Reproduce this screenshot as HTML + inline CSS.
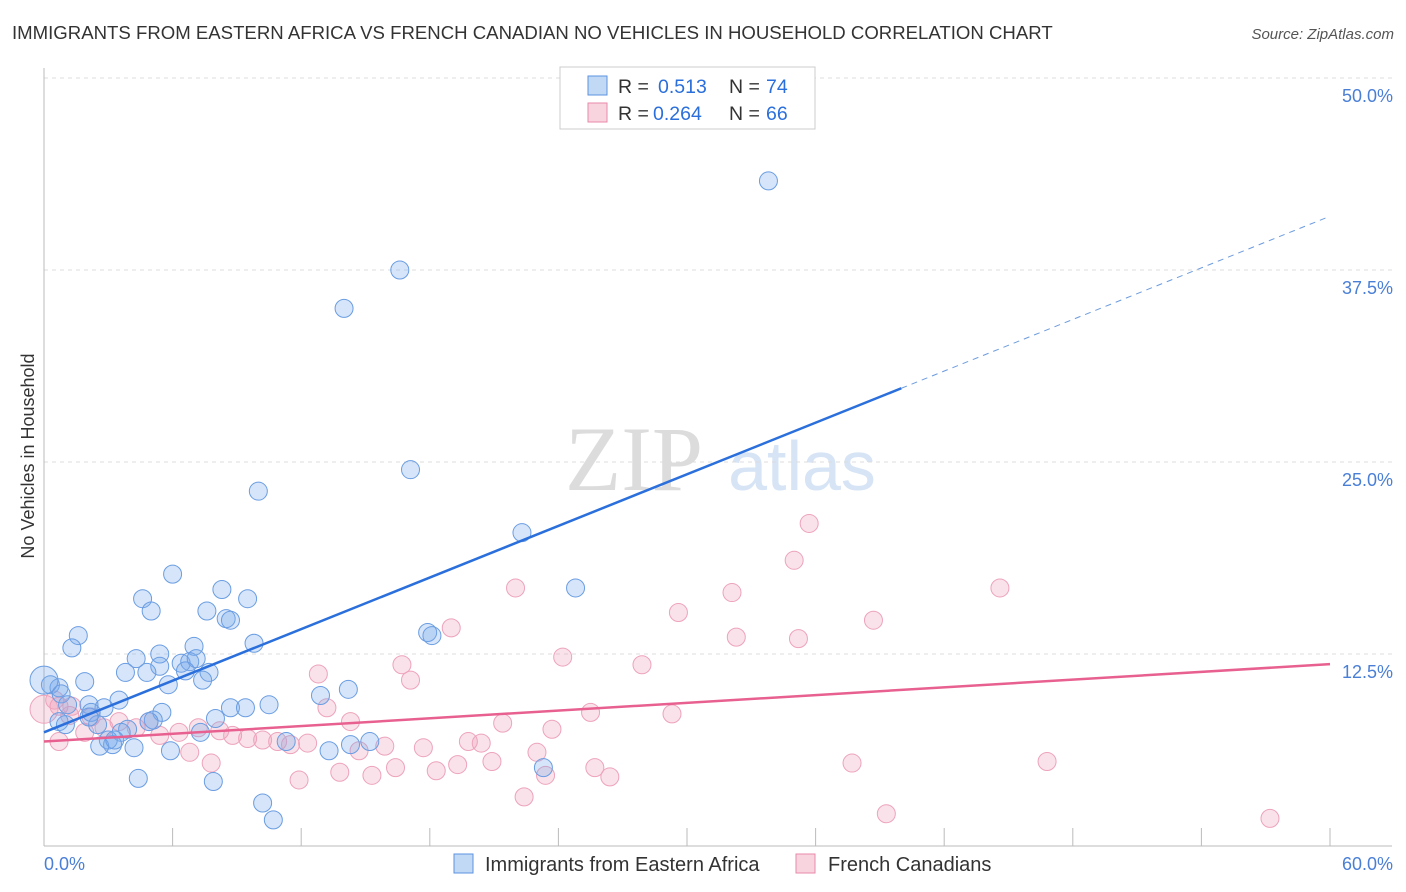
<!DOCTYPE html>
<html><head><meta charset="utf-8">
<style>
body{margin:0;background:#fff;font-family:"Liberation Sans",sans-serif;}
svg{display:block}
</style></head>
<body>
<svg id="chart" width="1406" height="892" viewBox="0 0 1406 892">
<text x="12" y="39" font-size="18.6" fill="#333">IMMIGRANTS FROM EASTERN AFRICA VS FRENCH CANADIAN NO VEHICLES IN HOUSEHOLD CORRELATION CHART</text>
<text x="1394" y="39" font-size="15" fill="#555" text-anchor="end" font-style="italic">Source: ZipAtlas.com</text>
<text x="634" y="490" font-size="92" fill="#dcdcdc" font-family="Liberation Serif,serif" text-anchor="middle">ZIP</text>
<text x="802" y="490" font-size="70" fill="#d6e4f5" text-anchor="middle">atlas</text>
<g id="grid"></g>
<g id="axes"></g>
<g id="pts"></g>
<g id="lines"></g>
<text transform="translate(34,456) rotate(-90)" font-size="18" fill="#333" text-anchor="middle">No Vehicles in Household</text>
<g>
<rect x="560" y="67" width="255" height="62" fill="#fff" stroke="#ccc"/>
<rect x="588" y="76" width="19" height="19" fill="rgba(120,170,235,0.45)" stroke="#5b93e0"/>
<text x="618" y="93" font-size="19.5" fill="#333">R =</text>
<text x="658" y="93" font-size="19.5" fill="#2a6fdb">0.513</text>
<text x="729" y="93" font-size="19.5" fill="#333">N =</text>
<text x="766" y="93" font-size="19.5" fill="#2a6fdb">74</text>
<rect x="588" y="103" width="19" height="19" fill="rgba(240,160,185,0.45)" stroke="#e88aa8"/>
<text x="618" y="120" font-size="19.5" fill="#333">R =</text>
<text x="653" y="120" font-size="19.5" fill="#2a6fdb">0.264</text>
<text x="729" y="120" font-size="19.5" fill="#333">N =</text>
<text x="766" y="120" font-size="19.5" fill="#2a6fdb">66</text>
</g>
<g>
<rect x="454" y="854" width="19" height="19" fill="rgba(120,170,235,0.45)" stroke="#5b93e0"/>
<text x="485" y="871" font-size="20" fill="#333">Immigrants from Eastern Africa</text>
<rect x="796" y="854" width="19" height="19" fill="rgba(240,160,185,0.45)" stroke="#e88aa8"/>
<text x="828" y="871" font-size="20" fill="#333">French Canadians</text>
</g>
</svg>
<script>
const xTicks=[0,6,12,18,24,30,36,42,48,54,60];
const yTicks=[12.5,25,37.5,50];
const yTickLabels=["12.5%","25.0%","37.5%","50.0%"];
const blueX=[33.8,16.6,14.0,17.1,10.0,22.3,24.8,6.0,8.3,9.5,4.6,5.0,7.6,8.5,8.7,1.6,1.3,7.0,9.8,17.9,18.1,4.3,5.4,5.4,6.4,6.8,7.1,6.6,7.7,3.8,4.8,1.9,5.8,7.4,0.3,0.7,0.8,14.2,12.9,3.5,1.1,2.1,2.8,8.7,9.4,10.5,5.5,2.2,5.1,8.0,0.7,3.9,2.5,3.6,3.0,3.2,7.3,2.6,4.2,5.9,11.3,14.3,15.2,13.3,3.3,23.3,4.4,7.9,10.2,10.7,0.0,1.0,4.9,2.1];
const blueY=[43.3,37.5,35.0,24.5,23.1,20.4,16.8,17.7,16.7,16.1,16.1,15.3,15.3,14.8,14.7,13.7,12.9,13.0,13.2,13.9,13.7,12.2,12.5,11.7,11.9,12.0,12.2,11.4,11.3,11.3,11.3,10.7,10.5,10.8,10.5,10.3,9.9,10.2,9.8,9.5,9.2,9.2,9.0,9.0,9.0,9.2,8.7,8.7,8.2,8.3,8.1,7.6,7.9,7.4,6.9,6.6,7.4,6.5,6.4,6.2,6.8,6.6,6.8,6.2,6.9,5.1,4.4,4.2,2.8,1.7,10.8,7.9,8.1,8.4];
const pinkX=[35.7,35.0,22.0,32.1,44.6,29.6,38.7,19.0,32.3,35.2,24.2,27.9,16.7,12.8,17.1,13.2,25.5,29.3,21.4,14.3,23.7,3.5,2.2,0.7,0.5,1.2,1.9,2.8,4.3,4.9,5.4,6.3,7.2,8.2,8.8,9.5,10.2,10.9,11.5,12.3,14.7,15.9,17.7,19.8,20.4,23.0,0.7,6.8,7.8,11.9,13.8,15.3,16.4,18.3,19.3,20.9,23.4,25.7,26.4,37.7,46.8,22.4,39.3,57.2,0.0,1.3];
const pinkY=[21.0,18.6,16.8,16.5,16.8,15.2,14.7,14.2,13.6,13.5,12.3,11.8,11.8,11.2,10.8,9.0,8.7,8.6,8.0,8.1,7.6,8.1,8.4,9.1,9.5,8.5,7.4,7.7,7.7,8.1,7.2,7.4,7.7,7.5,7.2,7.0,6.9,6.8,6.6,6.7,6.2,6.5,6.4,6.8,6.7,6.1,6.8,6.1,5.4,4.3,4.8,4.6,5.1,4.9,5.3,5.5,4.6,5.1,4.5,5.4,5.5,3.2,2.1,1.8,8.9,9.1];
const blueTrend=[7.4,0.56];
const pinkTrend=[6.8,0.084];
const X0=44,X1=1330,Y0=846,Y50=78;
const sx=v=>X0+(v/60)*(X1-X0);
const sy=v=>Y0-(v/50)*(Y0-Y50);
const NS="http://www.w3.org/2000/svg";
function mk(tag,attrs,parent){const e=document.createElementNS(NS,tag);for(const k in attrs)e.setAttribute(k,attrs[k]);parent.appendChild(e);return e;}
const grid=document.getElementById('grid'),axes=document.getElementById('axes'),pts=document.getElementById('pts'),lines=document.getElementById('lines');
yTicks.forEach((t,i)=>{
 const l=mk('line',{x1:X0,x2:1392,y1:sy(t),y2:sy(t),stroke:'#ddd','stroke-dasharray':'4,4'},grid);
 
 
 const tx=mk('text',{x:1393,y:sy(t)+24,'font-size':18,fill:'#4a7fd6','text-anchor':'end'},axes);
 tx.textContent=yTickLabels[i];
 
 
});
const xa=mk('line',{x1:X0,x2:1392,y1:Y0,y2:Y0,stroke:'#bbb'},axes);


const ya=mk('line',{x1:X0,x2:X0,y1:68,y2:Y0,stroke:'#bbb'},axes);


xTicks.forEach(t=>{
 const l=mk('line',{x1:sx(t),x2:sx(t),y1:Y0-18,y2:Y0,stroke:'#bbb'},axes);
 
 
});
const xl0=mk('text',{x:44,y:870,'font-size':18,fill:'#4a7fd6'},axes);xl0.textContent='0.0%';


const xl1=mk('text',{x:1393,y:870,'font-size':18,fill:'#4a7fd6','text-anchor':'end'},axes);xl1.textContent='60.0%';


function drawPts(xs,ys,fill,stroke,name){
 xs.forEach((v,i)=>{
  const r=(v===0)?14:9;
  const c=mk('circle',{cx:sx(v),cy:sy(ys[i]),r:r,fill:fill,stroke:stroke,'stroke-width':1},pts);
  
  
 });
}
drawPts(pinkX,pinkY,'rgba(240,160,185,0.3)','#eda3bb','french-canadian-point');
drawPts(blueX,blueY,'rgba(120,170,235,0.3)','#6a9de2','eastern-africa-point');
const bl=mk('line',{x1:sx(0),y1:sy(blueTrend[0]),x2:sx(40),y2:sy(blueTrend[0]+blueTrend[1]*40),stroke:'#2a6fdb','stroke-width':2.5},lines);


const bd=mk('line',{x1:sx(40),y1:sy(blueTrend[0]+blueTrend[1]*40),x2:sx(60),y2:sy(blueTrend[0]+blueTrend[1]*60),stroke:'#6b9be0','stroke-width':1,'stroke-dasharray':'6,5'},lines);


const pl=mk('line',{x1:sx(0),y1:sy(pinkTrend[0]),x2:sx(60),y2:sy(pinkTrend[0]+pinkTrend[1]*60),stroke:'#e8608f','stroke-width':2.5},lines);


</script>
</body></html>
